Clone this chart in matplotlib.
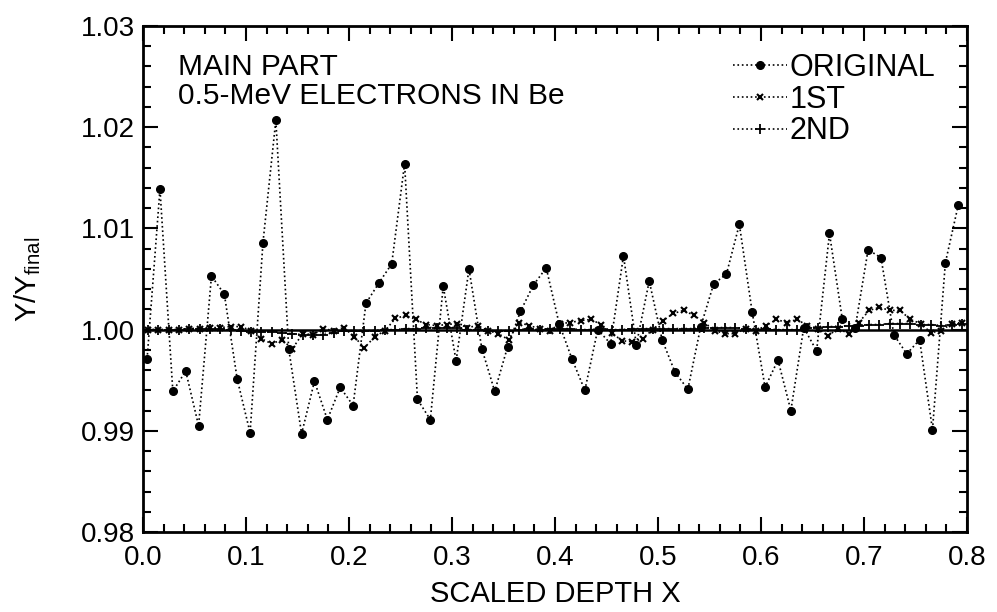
import matplotlib
matplotlib.use('Agg')
import matplotlib.pyplot as plt
from matplotlib.ticker import MultipleLocator

plt.rcParams['font.family'] = ['Liberation Sans', 'DejaVu Sans']
plt.rcParams['mathtext.default'] = 'regular'

# depth bins (scaled depth x)
depth_orig = [0.004, 0.0165, 0.029, 0.0415, 0.054, 0.0665, 0.079, 0.0915,
              0.104, 0.1165, 0.129, 0.1415, 0.154, 0.1665, 0.179, 0.1915,
              0.204, 0.2165, 0.229, 0.2415, 0.254, 0.2665, 0.279, 0.2915,
              0.304, 0.3165, 0.329, 0.3415, 0.354, 0.3665, 0.379, 0.3915,
              0.404, 0.4165, 0.429, 0.4415, 0.454, 0.4665, 0.479, 0.4915,
              0.504, 0.5165, 0.529, 0.5415, 0.554, 0.5665, 0.579, 0.5915,
              0.604, 0.6165, 0.629, 0.6415, 0.654, 0.6665, 0.679, 0.6915,
              0.704, 0.7165, 0.729, 0.7415, 0.754, 0.7665, 0.779, 0.7915]

depth_fine = [0.005, 0.015, 0.025, 0.035, 0.045, 0.055, 0.065, 0.075,
              0.085, 0.095, 0.105, 0.115, 0.125, 0.135, 0.145, 0.155,
              0.165, 0.175, 0.185, 0.195, 0.205, 0.215, 0.225, 0.235,
              0.245, 0.255, 0.265, 0.275, 0.285, 0.295, 0.305, 0.315,
              0.325, 0.335, 0.345, 0.355, 0.365, 0.375, 0.385, 0.395,
              0.405, 0.415, 0.425, 0.435, 0.445, 0.455, 0.465, 0.475,
              0.485, 0.495, 0.505, 0.515, 0.525, 0.535, 0.545, 0.555,
              0.565, 0.575, 0.585, 0.595, 0.605, 0.615, 0.625, 0.635,
              0.645, 0.655, 0.665, 0.675, 0.685, 0.695, 0.705, 0.715,
              0.725, 0.735, 0.745, 0.755, 0.765, 0.775, 0.785, 0.795]

# Y / Y_final
original = [0.9971, 1.0139, 0.9939, 0.9959, 0.9905, 1.0053, 1.0035, 0.9951,
            0.9898, 1.0086, 1.0207, 0.9981, 0.9897, 0.9949, 0.9911, 0.9943,
            0.9925, 1.0026, 1.0046, 1.0065, 1.0164, 0.9931, 0.9911, 1.0043,
            0.9969, 1.0060, 0.9981, 0.9939, 0.9983, 1.0018, 1.0044, 1.0061,
            1.0006, 0.9971, 0.9940, 1.0000, 0.9986, 1.0073, 0.9985, 1.0048,
            0.9990, 0.9958, 0.9941, 1.0003, 1.0045, 1.0055, 1.0104, 1.0017,
            0.9943, 0.9970, 0.9920, 1.0002, 0.9979, 1.0095, 1.0010, 1.0002,
            1.0079, 1.0071, 0.9995, 0.9976, 0.9990, 0.9901, 1.0066, 1.0123]

first = [1.0000, 1.0000, 1.0000, 1.0000, 1.0001, 1.0001, 1.0002, 1.0002,
         1.0003, 1.0003, 0.9999, 0.9991, 0.9986, 0.9990, 0.9981, 0.9996,
         0.9995, 1.0001, 0.9999, 1.0002, 0.9993, 0.9982, 0.9993, 0.9999,
         1.0011, 1.0014, 1.0010, 1.0005, 1.0004, 1.0005, 1.0006, 1.0002,
         1.0004, 0.9999, 0.9996, 0.9990, 1.0007, 1.0004, 1.0001, 0.9999,
         1.0006, 1.0007, 1.0009, 1.0010, 1.0005, 0.9997, 0.9989, 0.9988,
         0.9991, 1.0000, 1.0009, 1.0016, 1.0019, 1.0014, 1.0007, 0.9999,
         0.9996, 0.9996, 1.0001, 0.9999, 1.0004, 1.0010, 1.0007, 1.0010,
         1.0004, 1.0001, 0.9994, 1.0001, 0.9996, 1.0007, 1.0019, 1.0022,
         1.0019, 1.0019, 1.0010, 1.0006, 0.9997, 0.9999, 1.0006, 1.0007]

second = [1.0000, 1.0000, 1.0000, 1.0000, 1.0001, 1.0001, 1.0001, 1.0001,
          1.0000, 0.9999, 0.9998, 0.9998, 0.9998, 0.9997, 0.9996, 0.9995,
          0.9995, 0.9995, 0.9997, 0.9999, 0.9999, 0.9999, 0.9999, 1.0000,
          1.0000, 1.0001, 1.0001, 1.0002, 1.0002, 1.0002, 1.0002, 1.0000,
          1.0000, 0.9999, 0.9999, 0.9999, 1.0000, 1.0001, 1.0000, 1.0001,
          1.0001, 1.0001, 1.0000, 1.0000, 1.0001, 1.0000, 1.0000, 1.0001,
          1.0001, 1.0001, 1.0001, 1.0001, 1.0001, 1.0001, 1.0002, 1.0002,
          1.0002, 1.0002, 1.0001, 1.0000, 1.0001, 1.0000, 1.0000, 1.0000,
          1.0002, 1.0002, 1.0003, 1.0003, 1.0004, 1.0004, 1.0005, 1.0005,
          1.0006, 1.0006, 1.0006, 1.0005, 1.0005, 1.0004, 1.0005, 1.0006]

fig = plt.figure(figsize=(9.97, 6.12), dpi=100)
ax = fig.add_axes([0.1434, 0.1307, 0.8265, 0.8268])

ax.axhline(1.0, color='black', lw=1.8, zorder=1)
ax.plot(depth_orig, original, ls=':', color='black', lw=1.2, marker='o',
        ms=5.5, label='ORIGINAL', zorder=3)
ax.plot(depth_fine, first, ls=':', color='black', lw=1.2, marker='x',
        ms=5, mew=1.5, label='1ST', zorder=2)
ax.plot(depth_fine, second, ls=':', color='black', lw=1.2, marker='+',
        ms=7, mew=1.3, label='2ND', zorder=2)

ax.set_xlim(0.0, 0.8)
ax.set_ylim(0.98, 1.03)
ax.xaxis.set_major_locator(MultipleLocator(0.1))
ax.xaxis.set_minor_locator(MultipleLocator(0.02))
ax.yaxis.set_major_locator(MultipleLocator(0.01))
ax.yaxis.set_minor_locator(MultipleLocator(0.002))
ax.xaxis.set_major_formatter(plt.FormatStrFormatter('%.1f'))
ax.yaxis.set_major_formatter(plt.FormatStrFormatter('%.2f'))
ax.tick_params(which='both', direction='in', top=True, right=True,
               width=1.5, labelsize=20)
ax.tick_params(axis='x', pad=9)
ax.tick_params(axis='y', pad=6)
ax.tick_params(which='major', length=11)
ax.tick_params(which='minor', length=6)
for s in ax.spines.values():
    s.set_linewidth(2)

ax.set_xlabel('SCALED DEPTH X', fontsize=21, labelpad=7)
ax.set_ylabel('Y/Y$_{final}$', fontsize=21, va='center')
ax.yaxis.set_label_coords(-0.14, 0.5)

ax.text(0.043, 0.947, 'MAIN PART\n0.5-MeV ELECTRONS IN Be', transform=ax.transAxes,
        fontsize=21.5, va='top', ha='left', linespacing=1.05)

ax.legend(loc='upper right', bbox_to_anchor=(0.962, 0.947), frameon=False,
          fontsize=22, handlelength=1.75, handletextpad=0.1, labelspacing=0.06,
          borderaxespad=0.0, borderpad=0.0)

fig.savefig('out.png', dpi=100)
